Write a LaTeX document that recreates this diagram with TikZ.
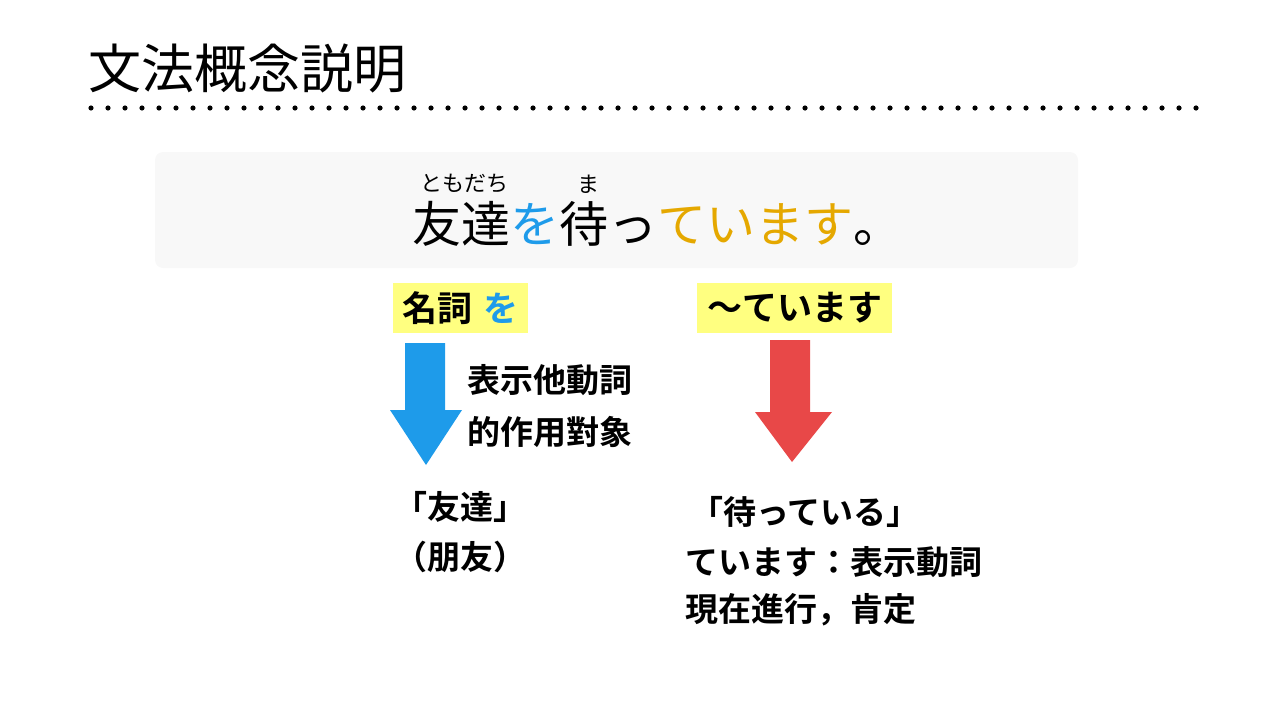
\documentclass[tikz,border=0pt]{standalone}
\usepackage{fontspec}
\setmainfont{Noto Sans CJK JP}
\newfontfamily\jpbold{Noto Sans CJK JP Bold}
\definecolor{wblue}{HTML}{1E9BEA}
\definecolor{wgold}{HTML}{E5A800}
\definecolor{wred}{HTML}{E84848}
\definecolor{hl}{HTML}{FFFF80}
\definecolor{boxg}{HTML}{F8F8F8}
\begin{document}
\begin{tikzpicture}[x=1pt,y=-1pt,
  lbl/.style={inner sep=0pt,font=\jpbold\fontsize{33}{36}\selectfont},
  tag/.style={fill=hl,inner sep=0pt,minimum height=50pt,font=\jpbold\fontsize{35}{38}\selectfont}]
\useasboundingbox (0,0) rectangle (1280,720);
\node[anchor=west,inner sep=0pt,font=\fontsize{53}{56}\selectfont] (title) at (88,68) {文法概念説明};
\foreach \i in {0,...,65} {\fill (91+\i*17.0,108) circle (2.6pt);}
\node[fill=boxg,rounded corners=8pt,minimum width=923pt,minimum height=116pt,inner sep=0pt] (box) at (616.5,210) {};
\node[anchor=west,inner sep=0pt,font=\fontsize{49}{54}\selectfont] (sent) at (412,224)
  {友達{\color{wblue}を}待っ{\color{wgold}ています}。};
\node[inner sep=0pt,font=\fontsize{22}{24}\selectfont] (f1) at (464,184) {ともだち};
\node[inner sep=0pt,font=\fontsize{22}{24}\selectfont] (f2) at (588,184) {ま};
\node[tag,minimum width=135pt] (t1) at (460.5,308) {名詞\hspace{0.3em}{\color{wblue}を}};
\node[tag,minimum width=195pt] (t2) at (794.5,308) {〜ています};
\fill[wblue] (405,343) -- (445,343) -- (445,410) -- (462,410) -- (426,465) -- (390,410) -- (405,410) -- cycle;
\fill[wred] (770,340) -- (810,340) -- (810,412) -- (832,412) -- (792,462) -- (755,412) -- (770,412) -- cycle;
\node[lbl,anchor=west] (a1) at (467,380) {表示他動詞};
\node[lbl,anchor=west] (a2) at (467,432) {的作用對象};
\node[lbl,anchor=west] (b1) at (394,507) {「友達」};
\node[lbl,anchor=west] (b2) at (394,557) {（朋友）};
\node[lbl,anchor=west] (c1) at (690,512) {「待っている」};
\node[lbl,anchor=west] (c2) at (685,562) {ています：表示動詞};
\node[lbl,anchor=west] (c3) at (685,610) {現在進行，肯定};
\end{tikzpicture}
\end{document}
